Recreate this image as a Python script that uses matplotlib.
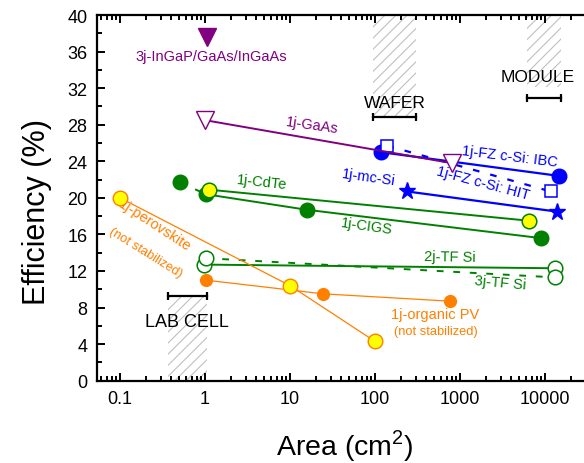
import matplotlib
matplotlib.use("Agg")
import matplotlib.pyplot as plt

plt.rcParams["font.family"] = ["Liberation Sans", "DejaVu Sans"]
plt.rcParams["hatch.linewidth"] = 0.8

# area in cm2, efficiency in %
ingap_area = [1.05]
ingap_eff = [37.6]
gaas_area = [1.0, 800]
gaas_eff = [28.5, 23.8]
ibc_area = [117, 14700]
ibc_eff = [25.0, 22.4]
hit_area = [140, 11700]
hit_eff = [25.7, 20.7]
mcsi_area = [240, 13700]
mcsi_eff = [20.7, 18.5]
cdte_area = [1.11, 6490]
cdte_eff = [20.9, 17.5]
cigs_area = [0.51, 1.02, 15.7, 8900]
cigs_eff = [21.7, 20.4, 18.7, 15.6]
tf2j_area = [0.98, 13100]
tf2j_eff = [12.7, 12.3]
tf3j_area = [1.02, 13100]
tf3j_eff = [13.4, 11.3]
pvsk_area = [0.1, 10, 100]
pvsk_eff = [20.0, 10.4, 4.3]
opv_area = [1.02, 24.7, 762]
opv_eff = [11.0, 9.5, 8.7]

# size classes: name, area span, bar height, hatched band
region_names = ["LAB CELL", "WAFER", "MODULE"]
region_span = [(0.37, 1.05), (95, 300), (6200, 15500)]
region_bar = [9.3, 28.8, 30.9]
region_band = [(0, 9.2), (28.9, 40), (32.1, 40)]

purple = "#800080"
blue = "#0000ff"
green = "#008000"
orange = "#ff8000"
yellow = "#ffff00"

fig = plt.figure(figsize=(5.84, 4.64), dpi=100)
ax = fig.add_axes([0.1661, 0.1774, 0.9, 0.788])
ax.set_xscale("log")
ax.set_xlim(10 ** -1.2706, 10 ** 4.913)
ax.set_ylim(0, 40)

# size-class bands
for (x0, x1), (y0, y1), yb in zip(region_span, region_band, region_bar):
    ax.fill_between([x0, x1], y0, y1, facecolor="none", edgecolor="#c0c0c0",
                    hatch="///", linewidth=0, zorder=1)
    ax.plot([x0, x1], [yb, yb], color="k", lw=1.6, marker="|", ms=6, mew=1.6, zorder=2)

ax.text(0.61, 6.0, region_names[0], fontsize=13, ha="center", va="baseline")
ax.text(172, 29.9, region_names[1], fontsize=12.5, ha="center", va="baseline")
ax.text(8280, 32.8, region_names[2], fontsize=12.5, ha="center", va="baseline")

# organic PV
ax.plot(opv_area, opv_eff, color=orange, lw=0.9, marker="o", ms=8.5,
        mfc=orange, mec=orange, zorder=3)
# perovskite
ax.plot(pvsk_area, pvsk_eff, color=orange, lw=0.9, marker="o", ms=10.5,
        mfc=yellow, mec=orange, mew=1.0, zorder=4)

# thin-film Si
ax.plot(tf2j_area, tf2j_eff, color=green, lw=1.4, marker="o", ms=10.5,
        mfc="white", mec=green, mew=1.1, zorder=3)
ax.plot(tf3j_area, tf3j_eff, color=green, lw=1.4, ls=(0, (3.5, 5)), marker="o", ms=10.5,
        mfc="white", mec=green, mew=1.1, zorder=3)

# CIGS
ax.plot(cigs_area[:2], cigs_eff[:2], color=green, lw=1.4, ls=(0, (3.5, 5)), zorder=2)
ax.plot(cigs_area[1:], cigs_eff[1:], color=green, lw=1.4, zorder=2)
ax.plot(cigs_area, cigs_eff, ls="none", marker="o", ms=10.5,
        mfc=green, mec=green, zorder=3)
# CdTe
ax.plot(cdte_area, cdte_eff, color=green, lw=1.4, marker="o", ms=10.5,
        mfc=yellow, mec=green, mew=1.1, zorder=4)

# c-Si
ax.plot(mcsi_area, mcsi_eff, color=blue, lw=1.6, marker="*", ms=12.5,
        mfc=blue, mec=blue, zorder=3)
ax.plot(ibc_area, ibc_eff, color=blue, lw=1.6, marker="o", ms=10.5,
        mfc=blue, mec=blue, zorder=3)
ax.plot(hit_area, hit_eff, color=blue, lw=1.6, ls=(0, (3, 5)), marker="s", ms=9,
        mfc="white", mec=blue, mew=1.1, zorder=4)

# III-V
ax.plot(gaas_area, gaas_eff, color=purple, lw=1.4, marker="v", ms=12.5,
        mfc="white", mec=purple, mew=1.0, zorder=5)
ax.plot(ingap_area, ingap_eff, ls="none", marker="v", ms=12.5,
        mfc=purple, mec=purple, zorder=5)

# labels
fs = 10.5
ax.text(1.2, 35.07, "3j-InGaP/GaAs/InGaAs", color=purple, fontsize=fs,
        ha="center", va="baseline")
ax.text(18.2, 28.0, "1j-GaAs", color=purple, fontsize=fs, rotation=-8,
        ha="center", va="center")
ax.text(3870, 24.55, "1j-FZ c-Si: IBC", color=blue, fontsize=fs, rotation=-7,
        ha="center", va="center")
ax.text(1860, 21.7, "1j-FZ c-Si: HIT", color=blue, fontsize=fs, rotation=-15,
        ha="center", va="center")
ax.text(85, 22.3, "1j-mc-Si", color=blue, fontsize=fs, rotation=-8,
        ha="center", va="center")
ax.text(4.68, 21.8, "1j-CdTe", color=green, fontsize=fs, rotation=-6,
        ha="center", va="center")
ax.text(80.5, 16.96, "1j-CIGS", color=green, fontsize=fs, rotation=-8,
        ha="center", va="center")
ax.text(760, 13.6, "2j-TF Si", color=green, fontsize=fs, rotation=-1,
        ha="center", va="center")
ax.text(3000, 10.8, "3j-TF Si", color=green, fontsize=fs, rotation=-5,
        ha="center", va="center")
ax.text(0.258, 17.0, "1j-perovskite", color=orange, fontsize=fs, rotation=-33,
        ha="center", va="center")
ax.text(0.202, 14.06, "(not stabilized)", color=orange, fontsize=9.3, rotation=-32,
        ha="center", va="center")
ax.text(508, 6.9, "1j-organic PV", color=orange, fontsize=fs,
        ha="center", va="baseline")
ax.text(520, 5.09, "(not stabilized)", color=orange, fontsize=9.3,
        ha="center", va="baseline")

# axes styling
for s in ax.spines.values():
    s.set_linewidth(1.6)
ax.set_yticks(range(0, 41, 4))
ax.set_yticks(range(2, 40, 4), minor=True)
ax.set_xticks([0.1, 1, 10, 100, 1000, 10000])
ax.set_xticklabels(["0.1", "1", "10", "100", "1000", "10000"])
ax.tick_params(which="both", direction="in", top=True, right=True, width=1.4,
               labelsize=13)
ax.tick_params(which="major", length=6, pad=7)
ax.tick_params(which="minor", length=3.5)

fig.text(37 / 584, 1 - 211.7 / 464, "Efficiency (%)", rotation=90, fontsize=22,
         ha="center", va="center")
fig.text(345 / 584, 1 - 446 / 464, "Area (cm$^\\mathregular{2}$)", fontsize=20.5,
         ha="center", va="center")

fig.savefig("out.png", dpi=100)
